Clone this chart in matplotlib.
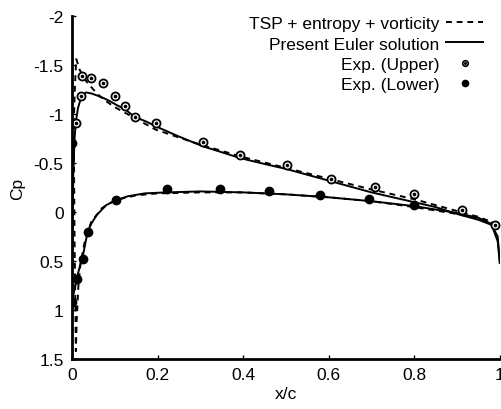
import matplotlib
matplotlib.use("Agg")
import matplotlib.pyplot as plt
from matplotlib.lines import Line2D

plt.rcParams['font.family'] = ['Liberation Sans', 'DejaVu Sans']

# Euler solution, upper surface
euler_up_x = [0.0, 0.001, 0.003, 0.006, 0.009, 0.014, 0.02, 0.026, 0.033, 0.045,
              0.058, 0.075, 0.089, 0.105, 0.123, 0.147, 0.175, 0.198, 0.25, 0.306,
              0.35, 0.393, 0.45, 0.5, 0.55, 0.6, 0.65, 0.7, 0.75, 0.8, 0.85,
              0.9, 0.95, 0.98, 0.995, 1.0]
euler_up_cp = [0.9, 0.3, -0.4, -0.75, -0.92, -1.06, -1.15, -1.2, -1.22, -1.21,
               -1.19, -1.16, -1.13, -1.09, -1.05, -0.97, -0.92, -0.87, -0.77, -0.67,
               -0.61, -0.55, -0.49, -0.44, -0.38, -0.32, -0.26, -0.2, -0.15, -0.1, -0.05,
               0.02, 0.08, 0.13, 0.25, 0.52]

# Euler solution, lower surface
euler_lo_x = [0.0, 0.003, 0.008, 0.011, 0.018, 0.025, 0.032, 0.037, 0.045, 0.058,
              0.08, 0.103, 0.13, 0.17, 0.22, 0.3, 0.4, 0.5, 0.6, 0.7, 0.8,
              0.9, 0.95, 0.98, 0.995, 1.0]
euler_lo_cp = [0.92, 0.85, 0.75, 0.68, 0.56, 0.46, 0.3, 0.2, 0.12, 0.03,
               -0.07, -0.12, -0.16, -0.19, -0.2, -0.21, -0.2, -0.18, -0.15, -0.11, -0.06,
               0.01, 0.06, 0.12, 0.3, 0.52]

# TSP + entropy + vorticity, upper surface
tsp_up_x = [0.004, 0.007, 0.01, 0.013, 0.018, 0.026, 0.034, 0.042, 0.06, 0.08,
            0.1, 0.15, 0.196, 0.25, 0.306, 0.4, 0.5, 0.6, 0.7, 0.8, 0.9,
            0.95, 0.98, 1.0]
tsp_up_cp = [-0.9, -1.3, -1.56, -1.52, -1.45, -1.39, -1.33, -1.29, -1.2, -1.13,
             -1.07, -0.95, -0.84, -0.76, -0.68, -0.56, -0.45, -0.34, -0.23, -0.13, -0.01,
             0.05, 0.1, 0.14]

# TSP + entropy + vorticity, lower surface
tsp_lo_x = [0.004, 0.006, 0.008, 0.009, 0.011, 0.015, 0.02, 0.03, 0.045, 0.07,
            0.1, 0.15, 0.2, 0.3, 0.4, 0.5, 0.6, 0.7, 0.8, 0.9, 0.95, 1.0]
tsp_lo_cp = [-0.9, 0.3, 1.0, 1.42, 1.1, 0.75, 0.52, 0.3, 0.1, -0.04,
             -0.12, -0.17, -0.19, -0.2, -0.2, -0.18, -0.15, -0.11, -0.05, 0.02, 0.07, 0.13]

# experiment
exp_up_x = [0.009, 0.021, 0.023, 0.044, 0.072, 0.10, 0.123, 0.147, 0.196, 0.306,
            0.393, 0.502, 0.605, 0.708, 0.80, 0.911, 0.988]
exp_up_cp = [-0.91, -1.18, -1.39, -1.37, -1.32, -1.18, -1.08, -0.97, -0.91, -0.71,
             -0.58, -0.48, -0.34, -0.26, -0.18, -0.02, 0.13]

exp_lo_x = [0.0, 0.0, 0.011, 0.025, 0.037, 0.103, 0.222, 0.346, 0.46, 0.58, 0.694, 0.80]
exp_lo_cp = [-0.70, 0.92, 0.68, 0.48, 0.20, -0.12, -0.23, -0.23, -0.21, -0.17, -0.13, -0.07]

x_ticks = [0, 0.2, 0.4, 0.6, 0.8, 1]
x_tick_labels = ["0", "0.2", "0.4", "0.6", "0.8", "1"]
y_ticks = [-2, -1.5, -1, -0.5, 0, 0.5, 1, 1.5]
y_tick_labels = ["-2", "-1.5", "-1", "-0.5", "0", "0.5", "1", "1.5"]


def main():

    fig = plt.figure(figsize=(5.01, 4.10), dpi=100)
    ax = fig.add_axes([0.1437, 0.122, 0.854, 0.8365])

    dash = (0, (3, 2.5))

    ax.plot(tsp_up_x, tsp_up_cp, color='black', lw=1.4, ls=dash)
    ax.plot(tsp_lo_x, tsp_lo_cp, color='black', lw=1.4, ls=dash)
    ax.plot(euler_up_x, euler_up_cp, color='black', lw=1.4)
    ax.plot(euler_lo_x, euler_lo_cp, color='black', lw=1.4)

    # open circles with a centre dot
    ax.plot(exp_up_x, exp_up_cp, ls='none', marker='o', ms=5.8, mfc='white',
            mec='black', mew=1.3)
    ax.plot(exp_up_x, exp_up_cp, ls='none', marker='o', ms=1.6, mfc='black',
            mec='black')
    ax.plot(exp_lo_x, exp_lo_cp, ls='none', marker='o', ms=6, color='black')

    ax.set_xlim(0, 1)
    ax.set_ylim(1.5, -2)
    ax.set_xticks(x_ticks)
    ax.set_xticklabels(x_tick_labels)
    ax.set_yticks(y_ticks)
    ax.set_yticklabels(y_tick_labels)
    ax.tick_params(direction='in', length=3, width=1, labelsize=12.5, pad=6)

    for side in ['top', 'right']:
        ax.spines[side].set_visible(False)
    for side in ['left', 'bottom']:
        ax.spines[side].set_linewidth(2)

    ax.set_xlabel("x/c", fontsize=12.5, labelpad=3)
    ax.set_ylabel("Cp", fontsize=12.5, labelpad=6)

    h_tsp = Line2D([], [], color='black', lw=1.4, ls=dash)
    h_euler = Line2D([], [], color='black', lw=1.4)
    h_up_a = Line2D([], [], ls='none', marker='o', ms=4, mfc='white',
                    mec='black', mew=1.2)
    h_up_b = Line2D([], [], ls='none', marker='o', ms=1.2, color='black')
    h_lo = Line2D([], [], ls='none', marker='o', ms=4.5, color='black')

    ax.legend([h_tsp, h_euler, (h_up_a, h_up_b), h_lo],
              ["TSP + entropy + vorticity", "Present Euler solution",
               "Exp. (Upper)", "Exp. (Lower)"],
              loc='upper right', bbox_to_anchor=(0.96, 1.0),
              frameon=False, markerfirst=False, fontsize=12.5,
              handlelength=2.1, handletextpad=0.4, labelspacing=0.3,
              borderaxespad=0, borderpad=0)

    fig.savefig("out.png", dpi=100)


if __name__ == "__main__":
    main()
